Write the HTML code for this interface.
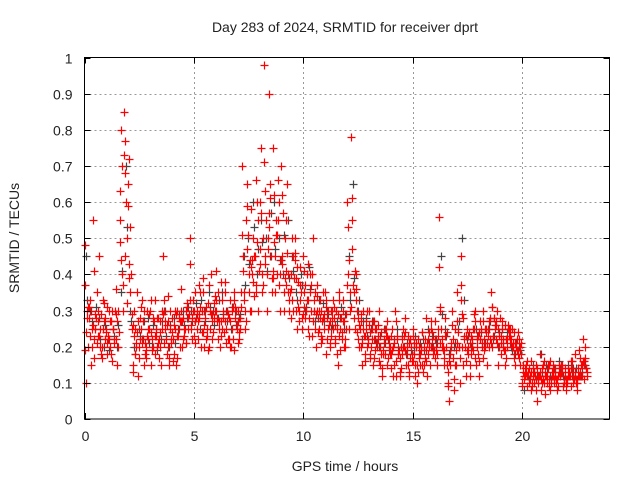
<!DOCTYPE html>
<html><head><meta charset="utf-8"><style>
body{margin:0;background:#fff}
svg{display:block;font-family:"Liberation Sans",sans-serif}
</style></head><body>
<svg id="chart" width="640" height="480" viewBox="0 0 640 480">
<rect width="640" height="480" fill="#fff"/>
<g id="grid"></g>
<g id="pts"></g>
<rect x="84.5" y="57.5" width="525" height="361.5" fill="none" stroke="#000" stroke-width="1"/>
<g id="ticks" font-size="14" fill="#222"></g>
<text x="345" y="32" font-size="14" text-anchor="middle" fill="#222">Day 283 of 2024, SRMTID for receiver dprt</text>
<text x="345" y="471" font-size="14" text-anchor="middle" fill="#222">GPS time / hours</text>
<text transform="translate(19,238) rotate(-90)" font-size="14" text-anchor="middle" fill="#222">SRMTID / TECUs</text>
</svg>
<script>
const xTicks=[0,5,10,15,20];
const yTicks=[0,0.1,0.2,0.3,0.4,0.5,0.6,0.7,0.8,0.9,1];
const yTickLabels=["0","0.1","0.2","0.3","0.4","0.5","0.6","0.7","0.8","0.9","1"];
const step=0.2;
const redOffsets=[0,0.05,0.1,0.15,0.12,0.03,0.07,0.17,0.02];
const grayOffsets=[0.08,0.13];
const red1=[0.48,0.28,0.55,0.3,0.2,0.25,0.18,0.3,0.55,0.85,0.65,0.15,0.35,0.25,0.2,0.3,0.18,0.22,0.45,0.2,0.28,0.15,0.3,0.25,0.5,0.3,0.22,0.35,0.25,0.4,0.3,0.2,0.35,0.28,0.22,0.3,0.7,0.55,0.3,0.45,0.6,0.98,0.5,0.75,0.4,0.7,0.55,0.35,0.5,0.3,0.45,0.25,0.4,0.2,0.3,0.35,0.2,0.28,0.15,0.3,0.6,0.78,0.4,0.25,0.18,0.3,0.15,0.22,0.12,0.25,0.18,0.3,0.12,0.2,0.15,0.25,0.1,0.2,0.28,0.15,0.22,0.56,0.2,0.1,0.3,0.15,0.45,0.2,0.12,0.25,0.18,0.3,0.15,0.35,0.22,0.28,0.15,0.25,0.2,0.18,0.1,0.15,0.08,0.12,0.18,0.1,0.14,0.12,0.08,0.15,0.1,0.12,0.18,0.12,0.22];
const red2=[0.1,0.3,0.22,0.45,0.25,0.18,0.3,0.22,0.8,0.45,0.72,0.3,0.12,0.22,0.3,0.15,0.25,0.2,0.3,0.15,0.22,0.3,0.2,0.3,0.25,0.35,0.28,0.2,0.32,0.22,0.28,0.38,0.25,0.2,0.35,0.22,0.45,0.65,0.4,0.35,0.75,0.45,0.9,0.62,0.55,0.45,0.65,0.4,0.3,0.42,0.35,0.28,0.5,0.3,0.22,0.18,0.3,0.22,0.35,0.2,0.4,0.55,0.3,0.2,0.25,0.18,0.22,0.3,0.18,0.15,0.25,0.12,0.2,0.28,0.12,0.18,0.22,0.15,0.12,0.25,0.2,0.3,0.15,0.05,0.22,0.35,0.2,0.12,0.18,0.3,0.12,0.22,0.25,0.2,0.3,0.18,0.22,0.25,0.18,0.22,0.15,0.12,0.1,0.15,0.08,0.12,0.15,0.1,0.12,0.15,0.1,0.14,0.1,0.12,0.16];
const red3=[0.28,0.15,0.25,0.2,0.32,0.22,0.25,0.15,0.4,0.6,0.35,0.25,0.2,0.15,0.25,0.22,0.28,0.15,0.25,0.3,0.18,0.25,0.28,0.32,0.22,0.28,0.35,0.3,0.2,0.28,0.35,0.25,0.3,0.2,0.28,0.25,0.35,0.4,0.5,0.6,0.35,0.55,0.65,0.45,0.6,0.35,0.4,0.5,0.25,0.35,0.28,0.4,0.3,0.25,0.35,0.22,0.28,0.3,0.25,0.2,0.25,0.35,0.28,0.15,0.3,0.2,0.25,0.15,0.22,0.2,0.12,0.22,0.18,0.15,0.22,0.12,0.2,0.15,0.18,0.22,0.15,0.25,0.28,0.15,0.08,0.2,0.28,0.25,0.2,0.15,0.22,0.25,0.2,0.28,0.15,0.25,0.2,0.22,0.15,0.2,0.12,0.1,0.14,0.05,0.1,0.12,0.08,0.12,0.15,0.1,0.12,0.14,0.08,0.15,0.2];
const red4=[0.2,0.25,0.35,0.18,0.28,0.2,0.22,0.3,0.3,0.5,0.25,0.2,0.28,0.18,0.25,0.2,0.28,0.25,0.18,0.22,0.25,0.2,0.25,0.28,0.3,0.25,0.3,0.22,0.3,0.3,0.25,0.3,0.22,0.3,0.25,0.35,0.25,0.3,0.45,0.3,0.5,0.4,0.35,0.55,0.3,0.5,0.3,0.45,0.38,0.25,0.4,0.3,0.35,0.28,0.25,0.3,0.25,0.18,0.22,0.25,0.3,0.25,0.2,0.3,0.22,0.25,0.2,0.18,0.25,0.2,0.15,0.18,0.25,0.2,0.18,0.2,0.15,0.22,0.2,0.18,0.25,0.2,0.15,0.2,0.25,0.1,0.22,0.18,0.25,0.22,0.2,0.25,0.28,0.25,0.2,0.22,0.25,0.2,0.22,0.18,0.14,0.12,0.1,0.12,0.15,0.1,0.12,0.1,0.12,0.14,0.12,0.1,0.14,0.15,0.12];
const red5=[0.3,0.2,0.28,0.25,0.22,0.3,0.25,0.2,0.7,0.32,0.4,0.18,0.22,0.3,0.22,0.28,0.2,0.3,0.22,0.25,0.3,0.28,0.22,0.25,0.28,0.3,0.2,0.28,0.25,0.32,0.22,0.28,0.3,0.25,0.3,0.28,0.3,0.35,0.38,0.55,0.4,0.3,0.45,0.35,0.4,0.3,0.35,0.3,0.42,0.28,0.3,0.35,0.25,0.3,0.28,0.25,0.3,0.25,0.28,0.22,0.35,0.28,0.22,0.25,0.2,0.22,0.25,0.2,0.18,0.22,0.2,0.18,0.22,0.18,0.2,0.15,0.18,0.2,0.22,0.2,0.18,0.22,0.2,0.18,0.15,0.2,0.15,0.2,0.22,0.2,0.25,0.2,0.22,0.28,0.25,0.2,0.22,0.25,0.2,0.15,0.12,0.14,0.12,0.1,0.14,0.12,0.1,0.14,0.12,0.1,0.14,0.12,0.1,0.12,0.14];
const red6=[0.37,0.23,0.17,0.27,0.33,0.21,0.27,0.36,0.63,0.77,0.43,0.13,0.27,0.33,0.17,0.24,0.33,0.27,0.21,0.34,0.16,0.23,0.36,0.21,0.33,0.27,0.37,0.24,0.19,0.27,0.41,0.23,0.27,0.33,0.19,0.27,0.41,0.47,0.58,0.37,0.47,0.63,0.53,0.41,0.66,0.43,0.37,0.28,0.46,0.37,0.31,0.43,0.27,0.37,0.23,0.31,0.27,0.21,0.33,0.27,0.53,0.47,0.33,0.27,0.23,0.17,0.27,0.23,0.19,0.27,0.23,0.16,0.13,0.24,0.21,0.16,0.13,0.24,0.19,0.27,0.17,0.31,0.19,0.13,0.17,0.27,0.37,0.16,0.21,0.27,0.24,0.17,0.23,0.31,0.27,0.23,0.19,0.21,0.24,0.19,0.13,0.09,0.16,0.11,0.13,0.07,0.11,0.13,0.09,0.13,0.11,0.09,0.13,0.17,0.11];
const red7=[0.24,0.33,0.29,0.23,0.27,0.23,0.16,0.27,0.44,0.68,0.53,0.23,0.17,0.27,0.23,0.19,0.23,0.24,0.27,0.17,0.26,0.23,0.27,0.31,0.26,0.21,0.31,0.26,0.37,0.24,0.27,0.33,0.21,0.27,0.31,0.24,0.33,0.51,0.44,0.49,0.57,0.43,0.61,0.49,0.37,0.57,0.46,0.33,0.39,0.33,0.37,0.23,0.33,0.24,0.27,0.28,0.23,0.26,0.19,0.27,0.44,0.37,0.24,0.21,0.27,0.24,0.19,0.16,0.21,0.17,0.19,0.23,0.14,0.19,0.17,0.21,0.17,0.13,0.21,0.24,0.19,0.21,0.23,0.16,0.11,0.24,0.29,0.19,0.23,0.17,0.27,0.19,0.27,0.23,0.21,0.27,0.17,0.23,0.21,0.17,0.11,0.13,0.09,0.14,0.11,0.13,0.16,0.11,0.13,0.09,0.11,0.16,0.11,0.13,0.17];
const red8=[0.31,0.26,0.21,0.29,0.24,0.27,0.21,0.24,0.37,0.59,0.29,0.21,0.31,0.21,0.29,0.27,0.21,0.29,0.26,0.21,0.29,0.27,0.23,0.29,0.33,0.27,0.24,0.31,0.29,0.34,0.27,0.24,0.29,0.31,0.26,0.31,0.27,0.44,0.34,0.41,0.37,0.47,0.39,0.51,0.44,0.39,0.33,0.39,0.31,0.29,0.33,0.37,0.29,0.33,0.29,0.26,0.33,0.29,0.24,0.29,0.31,0.41,0.26,0.23,0.21,0.27,0.21,0.24,0.23,0.18,0.21,0.19,0.2,0.23,0.16,0.21,0.19,0.17,0.24,0.19,0.23,0.19,0.24,0.21,0.19,0.17,0.23,0.24,0.19,0.23,0.21,0.24,0.21,0.26,0.23,0.19,0.26,0.21,0.19,0.21,0.13,0.11,0.13,0.12,0.11,0.15,0.13,0.11,0.13,0.12,0.13,0.11,0.12,0.16,0.13];
const red9=[0.19,0.31,0.41,0.23,0.17,0.31,0.27,0.29,0.49,0.73,0.39,0.26,0.24,0.21,0.19,0.33,0.23,0.17,0.33,0.27,0.24,0.17,0.27,0.21,0.43,0.23,0.29,0.39,0.23,0.29,0.33,0.27,0.38,0.22,0.33,0.21,0.51,0.59,0.42,0.66,0.43,0.71,0.57,0.39,0.51,0.62,0.41,0.36,0.44,0.27,0.41,0.33,0.23,0.34,0.21,0.33,0.21,0.31,0.23,0.33,0.37,0.61,0.36,0.29,0.16,0.26,0.17,0.26,0.14,0.23,0.14,0.27,0.17,0.23,0.13,0.23,0.15,0.24,0.16,0.2,0.27,0.42,0.17,0.09,0.26,0.21,0.33,0.23,0.15,0.29,0.16,0.27,0.21,0.31,0.26,0.21,0.26,0.23,0.17,0.24,0.09,0.16,0.13,0.08,0.12,0.16,0.09,0.15,0.11,0.14,0.08,0.16,0.12,0.19,0.15];
const gray1=[0.45,0.3,0.25,0.28,0.2,0.22,0.25,0.2,0.35,0.7,0.3,0.2,0.25,0.22,0.28,0.2,0.25,0.22,0.3,0.2,0.28,0.25,0.3,0.28,0.3,0.32,0.25,0.3,0.35,0.3,0.28,0.35,0.3,0.25,0.3,0.28,0.45,0.5,0.6,0.4,0.55,0.5,0.45,0.6,0.5,0.4,0.55,0.45,0.35,0.4,0.3,0.42,0.3,0.28,0.32,0.3,0.25,0.3,0.28,0.25,0.45,0.65,0.3,0.22,0.28,0.25,0.22,0.2,0.25,0.22,0.2,0.25,0.2,0.18,0.22,0.2,0.18,0.22,0.25,0.2,0.22,0.45,0.25,0.18,0.2,0.25,0.5,0.22,0.2,0.25,0.22,0.2,0.25,0.22,0.2,0.25,0.22,0.2,0.18,0.2,0.08,0.12,0.15,0.12,0.18,0.15,0.12,0.14,0.16,0.12,0.15,0.12,0.14,0.12,0.15];
const gray2=[0.33,0.27,0.31,0.22,0.26,0.19,0.23,0.26,0.41,0.53,0.27,0.18,0.23,0.27,0.21,0.26,0.19,0.27,0.23,0.26,0.21,0.29,0.26,0.31,0.27,0.29,0.33,0.27,0.31,0.26,0.33,0.29,0.27,0.31,0.26,0.29,0.37,0.43,0.53,0.47,0.49,0.41,0.57,0.47,0.44,0.51,0.39,0.41,0.33,0.37,0.31,0.36,0.27,0.33,0.27,0.29,0.26,0.27,0.31,0.29,0.33,0.39,0.33,0.27,0.23,0.27,0.21,0.23,0.21,0.19,0.22,0.2,0.23,0.21,0.19,0.23,0.21,0.19,0.21,0.23,0.21,0.29,0.23,0.19,0.21,0.27,0.33,0.23,0.21,0.23,0.24,0.21,0.27,0.23,0.24,0.21,0.24,0.19,0.21,0.19,0.12,0.11,0.13,0.1,0.13,0.14,0.11,0.13,0.14,0.11,0.13,0.14,0.11,0.13,0.14];
const redSeries=[red1,red2,red3,red4,red5,red6,red7,red8,red9];
const graySeries=[gray1,gray2];
const NS="http://www.w3.org/2000/svg";
const x0=84.5,x1=609.5,y0=419,y1=57.5,xMax=24;
function xs(v){return x0+(x1-x0)*v/xMax;}
function ys(v){return y0+(y1-y0)*v;}
const grid=document.getElementById('grid'),ticks=document.getElementById('ticks'),pts=document.getElementById('pts');
function line(p,a,b,c,d,st,dash){const l=document.createElementNS(NS,'line');l.setAttribute('x1',a);l.setAttribute('y1',b);l.setAttribute('x2',c);l.setAttribute('y2',d);l.setAttribute('stroke',st);if(dash)l.setAttribute('stroke-dasharray',dash);p.appendChild(l);return l;}
yTicks.forEach((v,i)=>{const y=Math.round(ys(v))+0.5;
 if(i>0&&i<yTicks.length-1){const g=line(grid,x0,y,x1,y,'#999','2,3');
 
 }
 line(ticks,x0,y,x0+6,y,'#000');line(ticks,x1,y,x1-6,y,'#000');
 const t=document.createElementNS(NS,'text');t.setAttribute('x',x0-12);t.setAttribute('y',y+5);t.setAttribute('text-anchor','end');t.textContent=yTickLabels[i];
 
 
 ticks.appendChild(t);});
xTicks.forEach(v=>{const x=Math.round(xs(v))+0.5;
 if(v>0){const g=line(grid,x,y0,x,y1,'#999','2,3');
 
 }
 line(ticks,x,y0,x,y0-6,'#000');line(ticks,x,y1,x,y1+6,'#000');
 const t=document.createElementNS(NS,'text');t.setAttribute('x',x);t.setAttribute('y',y0+22);t.setAttribute('text-anchor','middle');t.textContent=v;
 
 
 ticks.appendChild(t);});
function plus(vals,off,color,name){let d='';vals.forEach((v,i)=>{const x=Math.round(xs(i*step+off))+0.5,y=Math.round(ys(v))+0.5;d+=`M${x-4} ${y}h8M${x} ${y-4}v8`;});
 const p=document.createElementNS(NS,'path');p.setAttribute('d',d);p.setAttribute('stroke',color);p.setAttribute('stroke-width','1.2');p.setAttribute('fill','none');
 
 
 pts.appendChild(p);}
graySeries.forEach((s,k)=>plus(s,grayOffsets[k],'#444','gray-series'));
redSeries.forEach((s,k)=>plus(s,redOffsets[k],'#f00','red-series'));
</script>
</body></html>
